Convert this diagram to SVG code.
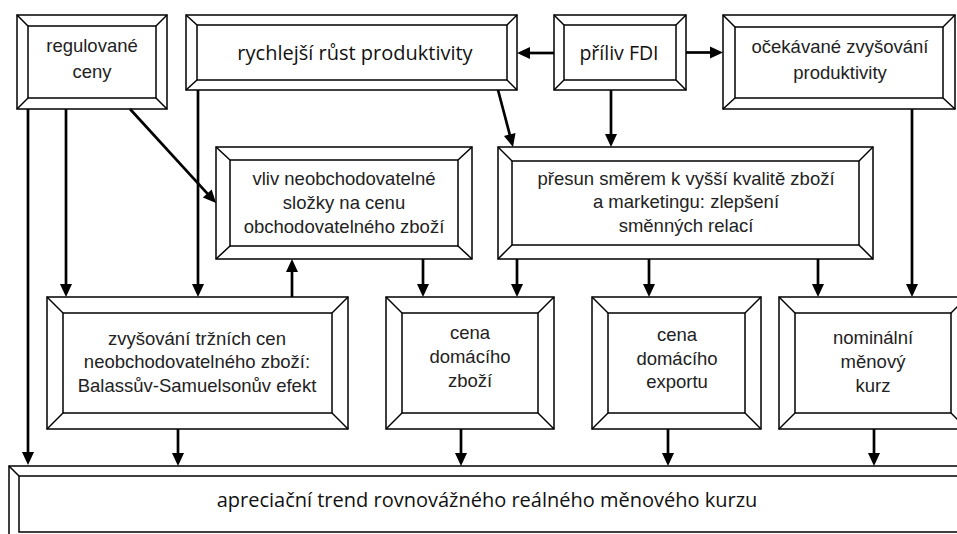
<svg xmlns="http://www.w3.org/2000/svg" width="957" height="534" viewBox="0 0 957 534">
<defs>
<marker id="ah" markerUnits="userSpaceOnUse" markerWidth="14" markerHeight="13" refX="7" refY="6" orient="auto" overflow="visible">
<path d="M0,0 L13,6 L0,12 z" fill="#000"/>
</marker>
</defs>
<style>
.b rect{fill:#fff;stroke:#000;stroke-width:1.5}
.b line{stroke:#000;stroke-width:1.5}
.a{font-family:"Liberation Sans",Arial,sans-serif;font-size:18.5px;fill:#222;text-anchor:middle}
.c{font-family:"Open Sans","Noto Sans",sans-serif;font-size:20px;fill:#111;text-anchor:middle}
.k{font-family:"Open Sans","Noto Sans",sans-serif;font-size:20px;fill:#111;text-anchor:middle}
#conn line,#conn path{stroke:#000;stroke-width:2.7;fill:none}
</style>
<rect width="957" height="534" fill="#fff"/>

<g id="n-regulovane" class="b">
<rect x="17" y="15" width="150" height="94"/><rect x="28" y="26" width="128" height="72"/>
<line x1="17" y1="15" x2="28" y2="26"/><line x1="167" y1="15" x2="156" y2="26"/><line x1="17" y1="109" x2="28" y2="98"/><line x1="167" y1="109" x2="156" y2="98"/>
<text class="a" x="92" y="52">regulované</text><text class="a" x="92" y="78">ceny</text>
</g>

<g id="n-rychlejsi" class="b">
<rect x="186" y="15" width="331" height="75"/><rect x="197" y="25" width="310" height="55"/>
<line x1="186" y1="15" x2="197" y2="25"/><line x1="517" y1="15" x2="507" y2="25"/><line x1="186" y1="90" x2="197" y2="80"/><line x1="517" y1="90" x2="507" y2="80"/>
<text class="c" x="355" y="60">rychlejší růst produktivity</text>
</g>

<g id="n-fdi" class="b">
<rect x="554" y="15" width="132" height="75"/><rect x="564" y="25" width="112" height="55"/>
<line x1="554" y1="15" x2="564" y2="25"/><line x1="686" y1="15" x2="676" y2="25"/><line x1="554" y1="90" x2="564" y2="80"/><line x1="686" y1="90" x2="676" y2="80"/>
<text class="c" x="619" y="60" style="font-size:19.5px">příliv FDI</text>
</g>

<g id="n-ocekavane" class="b">
<rect x="723" y="15" width="232" height="94"/><rect x="735" y="27" width="208" height="71"/>
<line x1="723" y1="15" x2="735" y2="27"/><line x1="955" y1="15" x2="943" y2="27"/><line x1="723" y1="109" x2="735" y2="98"/><line x1="955" y1="109" x2="943" y2="98"/>
<text class="a" x="840" y="53">očekávané zvyšování</text><text class="a" x="840" y="79">produktivity</text>
</g>

<g id="n-vliv" class="b">
<rect x="216" y="147" width="256" height="112"/><rect x="230" y="160" width="228" height="86"/>
<line x1="216" y1="147" x2="230" y2="160"/><line x1="472" y1="147" x2="458" y2="160"/><line x1="216" y1="259" x2="230" y2="246"/><line x1="472" y1="259" x2="458" y2="246"/>
<text class="a" x="344" y="185">vliv neobchodovatelné</text><text class="a" x="344" y="209">složky na cenu</text><text class="a" x="344" y="233">obchodovatelného zboží</text>
</g>

<g id="n-presun" class="b">
<rect x="498" y="147" width="375" height="112"/><rect x="512" y="161" width="347" height="84"/>
<line x1="498" y1="147" x2="512" y2="161"/><line x1="873" y1="147" x2="859" y2="161"/><line x1="498" y1="259" x2="512" y2="245"/><line x1="873" y1="259" x2="859" y2="245"/>
<text class="a" x="686" y="185">přesun směrem k vyšší kvalitě zboží</text><text class="a" x="686" y="208">a marketingu: zlepšení</text><text class="a" x="686" y="232">směnných relací</text>
</g>

<g id="n-zvysovani" class="b">
<rect x="47" y="297" width="301" height="132"/><rect x="63" y="313" width="269" height="100"/>
<line x1="47" y1="297" x2="63" y2="313"/><line x1="348" y1="297" x2="332" y2="313"/><line x1="47" y1="429" x2="63" y2="413"/><line x1="348" y1="429" x2="332" y2="413"/>
<text class="a" x="197" y="345">zvyšování tržních cen</text><text class="a" x="197" y="368">neobchodovatelného zboží:</text><text class="a" x="197" y="392">Balassův-Samuelsonův efekt</text>
</g>

<g id="n-cena-zbozi" class="b">
<rect x="386" y="297" width="168" height="132"/><rect x="402" y="313" width="136" height="100"/>
<line x1="386" y1="297" x2="402" y2="313"/><line x1="554" y1="297" x2="538" y2="313"/><line x1="386" y1="429" x2="402" y2="413"/><line x1="554" y1="429" x2="538" y2="413"/>
<text class="a" x="470" y="339">cena</text><text class="a" x="470" y="363">domácího</text><text class="a" x="470" y="387">zboží</text>
</g>

<g id="n-cena-exportu" class="b">
<rect x="592" y="297" width="169" height="132"/><rect x="608" y="313" width="137" height="100"/>
<line x1="592" y1="297" x2="608" y2="313"/><line x1="761" y1="297" x2="745" y2="313"/><line x1="592" y1="429" x2="608" y2="413"/><line x1="761" y1="429" x2="745" y2="413"/>
<text class="a" x="677" y="341">cena</text><text class="a" x="677" y="365">domácího</text><text class="a" x="677" y="388">exportu</text>
</g>

<g id="n-nominalni" class="b">
<rect x="779" y="297" width="188" height="132"/><rect x="795" y="313" width="156" height="100"/>
<line x1="779" y1="297" x2="795" y2="313"/><line x1="967" y1="297" x2="951" y2="313"/><line x1="779" y1="429" x2="795" y2="413"/><line x1="967" y1="429" x2="951" y2="413"/>
<text class="a" x="873" y="344">nominální</text><text class="a" x="873" y="368">měnový</text><text class="a" x="873" y="392">kurz</text>
</g>

<g id="n-apreciacni" class="b">
<rect x="9" y="466" width="961" height="80"/><rect x="19" y="476" width="941" height="56"/>
<line x1="9" y1="466" x2="19" y2="476"/>
<text class="k" x="487" y="507">apreciační trend rovnovážného reálného měnového kurzu</text>
</g>

<g id="conn">
<line x1="28" y1="109" x2="28" y2="459" marker-end="url(#ah)"/>
<line x1="66" y1="109" x2="66" y2="291" marker-end="url(#ah)"/>
<line x1="130" y1="109" x2="212" y2="198.6" marker-end="url(#ah)"/>
<line x1="198" y1="90" x2="198" y2="291" marker-end="url(#ah)"/>
<line x1="292" y1="297" x2="292" y2="265" marker-end="url(#ah)"/>
<line x1="498" y1="90" x2="511.5" y2="141.2" marker-end="url(#ah)"/>
<line x1="611" y1="90" x2="611" y2="141" marker-end="url(#ah)"/>
<line x1="554" y1="53" x2="523" y2="53" marker-end="url(#ah)"/>
<line x1="686" y1="52.5" x2="717" y2="52.5" marker-end="url(#ah)"/>
<line x1="912" y1="109" x2="912" y2="291" marker-end="url(#ah)"/>
<line x1="423" y1="259" x2="423" y2="291" marker-end="url(#ah)"/>
<line x1="517" y1="259" x2="517" y2="291" marker-end="url(#ah)"/>
<line x1="649" y1="259" x2="649" y2="291" marker-end="url(#ah)"/>
<line x1="818" y1="259" x2="818" y2="291" marker-end="url(#ah)"/>
<line x1="178" y1="429" x2="178" y2="460" marker-end="url(#ah)"/>
<line x1="461" y1="429" x2="461" y2="460" marker-end="url(#ah)"/>
<line x1="668" y1="429" x2="668" y2="460" marker-end="url(#ah)"/>
<line x1="874" y1="429" x2="874" y2="460" marker-end="url(#ah)"/>
</g>
</svg>
